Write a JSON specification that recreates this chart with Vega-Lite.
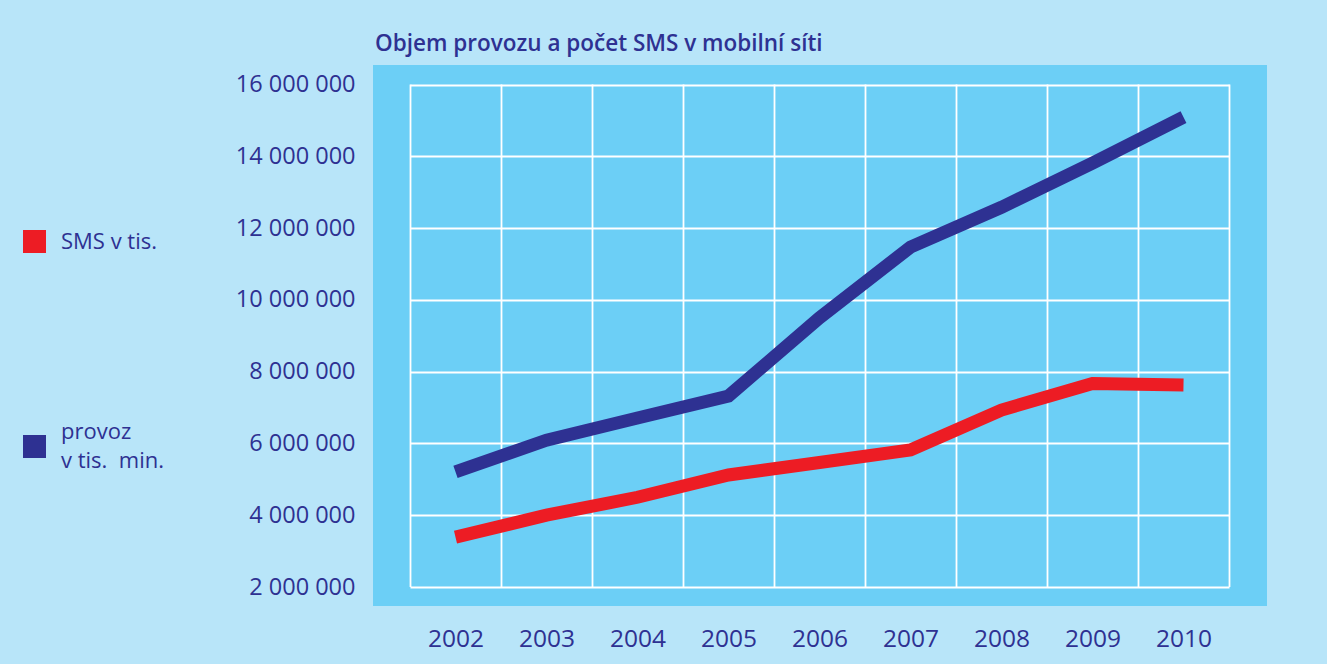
{
  "$schema": "https://vega.github.io/schema/vega-lite/v6.json",
  "autosize": "none",
  "width": 894,
  "height": 541,
  "padding": {"left": 373, "top": 65, "right": 60, "bottom": 58},
  "background": "#b8e5f9",
  "title": {
    "text": "Objem provozu a počet SMS v mobilní síti",
    "anchor": "start",
    "frame": "group",
    "baseline": "alphabetic",
    "offset": -8,
    "dx": 2,
    "font": "Open Sans",
    "fontSize": 22.5,
    "fontWeight": 600,
    "color": "#2e3192"
  },
  "data": {
    "values": [
      {"year": 2002, "series": "SMS v tis.", "value": 3390000},
      {"year": 2003, "series": "SMS v tis.", "value": 4000000},
      {"year": 2004, "series": "SMS v tis.", "value": 4500000},
      {"year": 2005, "series": "SMS v tis.", "value": 5120000},
      {"year": 2006, "series": "SMS v tis.", "value": 5470000},
      {"year": 2007, "series": "SMS v tis.", "value": 5820000},
      {"year": 2008, "series": "SMS v tis.", "value": 6930000},
      {"year": 2009, "series": "SMS v tis.", "value": 7670000},
      {"year": 2010, "series": "SMS v tis.", "value": 7630000},
      {"year": 2002, "series": "provoz v tis. min.", "value": 5210000},
      {"year": 2003, "series": "provoz v tis. min.", "value": 6090000},
      {"year": 2004, "series": "provoz v tis. min.", "value": 6710000},
      {"year": 2005, "series": "provoz v tis. min.", "value": 7320000},
      {"year": 2006, "series": "provoz v tis. min.", "value": 9500000},
      {"year": 2007, "series": "provoz v tis. min.", "value": 11470000},
      {"year": 2008, "series": "provoz v tis. min.", "value": 12580000},
      {"year": 2009, "series": "provoz v tis. min.", "value": 13810000},
      {"year": 2010, "series": "provoz v tis. min.", "value": 15090000}
    ]
  },
  "mark": {"type": "line", "strokeWidth": 13, "strokeCap": "butt", "strokeJoin": "miter"},
  "encoding": {
    "x": {
      "field": "year",
      "type": "quantitative",
      "scale": {"domain": [2001.5, 2010.5], "range": [37, 856], "nice": false, "zero": false},
      "axis": {
        "title": null,
        "values": [2001.5, 2002.5, 2003.5, 2004.5, 2005.5, 2006.5, 2007.5, 2008.5, 2009.5, 2010.5],
        "labelExpr": "datum.value > 2010 ? '' : '' + (datum.value + 0.5)",
        "labelOffset": 45.5,
        "labelPadding": 40,
        "labelBaseline": "alphabetic",
        "labelFontSize": 24.5,
        "labelFlush": false,
        "labelOverlap": false,
        "labelBound": false
      }
    },
    "y": {
      "field": "value",
      "type": "quantitative",
      "scale": {"domain": [2000000, 16000000], "range": [522, 19.5], "nice": false, "zero": false},
      "axis": {
        "title": null,
        "values": [2000000, 4000000, 6000000, 8000000, 10000000, 12000000, 14000000, 16000000],
        "labelExpr": "replace(replace(format(datum.value, ','), ',', ' '), ',', ' ')",
        "labelPadding": 18,
        "labelFontSize": 23.5,
        "labelBaseline": "middle",
        "labelFlush": false,
        "labelOverlap": false,
        "labelBound": false
      }
    },
    "color": {
      "field": "series",
      "type": "nominal",
      "scale": {"domain": ["SMS v tis.", "provoz v tis. min."], "range": ["#ed1c24", "#2e3192"]},
      "legend": {
        "title": null,
        "orient": "none",
        "legendX": -350,
        "legendY": 165,
        "symbolType": "square",
        "symbolSize": 529,
        "symbolStrokeWidth": 0,
        "rowPadding": 168,
        "padding": 0,
        "labelOffset": 15,
        "labelExpr": "datum.label == 'provoz v tis. min.' ? ['provoz', 'v tis.\u00a0 min.'] : datum.label",
        "encode": {
          "symbols": {"update": {"fill": {"scale": "color", "field": "value"}, "stroke": {"value": "transparent"}, "opacity": {"value": 1}}},
          "labels": {"update": {"lineHeight": {"value": 29}, "dy": {"signal": "datum.value == 'provoz v tis. min.' ? -14.5 : 0"}}}
        }
      }
    }
  },
  "config": {
    "view": {"fill": "#6ccff6", "stroke": null},
    "axis": {
      "domain": false,
      "ticks": false,
      "tickSize": 0,
      "grid": true,
      "gridColor": "#ffffff",
      "gridWidth": 1.8,
      "gridOpacity": 1,
      "labelFont": "Open Sans",
      "labelColor": "#2e3192",
      "labelFontWeight": 400
    },
    "legend": {
      "labelFont": "Open Sans",
      "labelFontSize": 22,
      "labelColor": "#2e3192",
      "labelLimit": 300
    }
  }
}
